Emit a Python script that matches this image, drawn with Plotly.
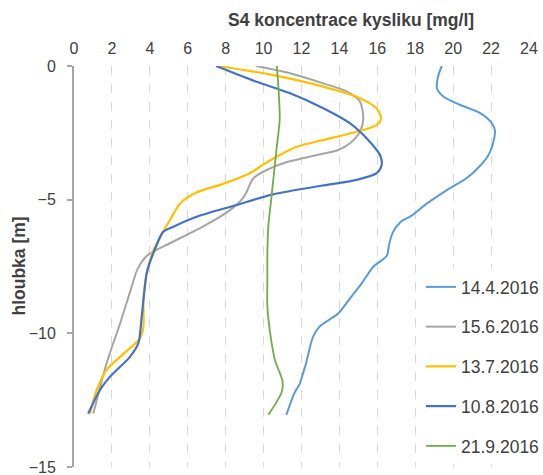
import plotly.graph_objects as go

# Dissolved oxygen profiles at station S4 (depth in m, concentration in mg/l)
labels = ["14.4.2016", "15.6.2016", "13.7.2016", "10.8.2016", "21.9.2016"]
colors = ["#5B9BD5", "#A5A5A5", "#FFC000", "#4472C4", "#70AD47"]
widths = [2, 2, 2.2, 2.2, 1.8]

depth_0414 = [0, -0.4, -0.85, -1.15, -1.45, -1.75, -2.1, -2.4, -2.9, -3.35, -3.75, -4.2,
              -4.65, -5.15, -5.6, -5.85, -6.25, -6.75, -7.1, -7.5, -8.1, -8.7, -9.25,
              -9.75, -10.15, -10.5, -11.1, -11.45, -11.9, -12.2, -13.05]
oxy_0414 = [19.4, 19.2, 19.15, 19.5, 20.35, 21.4, 22.0, 22.2, 22.1, 21.85, 21.4, 20.7,
            19.65, 18.6, 17.8, 17.2, 16.8, 16.6, 16.5, 15.8, 15.2, 14.55, 13.95,
            12.95, 12.6, 12.45, 12.25, 12.1, 11.9, 11.65, 11.2]

depth_0615 = [0, -0.27, -0.65, -0.96, -1.33, -1.96, -2.46, -2.89, -3.15, -3.3, -3.6,
              -3.89, -4.2, -4.7, -4.95, -5.39, -6.0, -6.63, -7.1, -7.6, -8.26, -9.63,
              -11.12, -13.0]
oxy_0615 = [9.6, 11.4, 13.15, 14.4, 15.08, 15.26, 15.08, 14.56, 13.9, 13.0, 11.2,
            10.16, 9.46, 9.11, 8.9, 8.23, 6.82, 5.06, 3.85, 3.35, 3.04, 2.43,
            1.72, 1.02]

depth_0713 = [0, -0.34, -0.77, -1.15, -1.58, -1.96, -2.21, -2.46, -2.77, -3.02, -3.33,
              -3.7, -4.0, -4.4, -4.75, -5.14, -5.76, -6.2, -6.88, -7.51, -8.13, -8.75,
              -9.75, -10.19, -10.44, -10.88, -11.37, -12.12, -13.0]
oxy_0713 = [7.6, 10.5, 13.15, 14.9, 15.95, 16.2, 15.95, 14.9, 13.15, 11.75, 10.85,
            9.95, 9.3, 7.9, 6.4, 5.6, 5.06, 4.7, 4.2, 3.92, 3.75, 3.66,
            3.66, 3.48, 3.13, 2.43, 1.72, 1.2, 0.84]

depth_0810 = [0, -0.59, -1.02, -1.58, -2.14, -2.83, -3.33, -3.7, -4.01, -4.26, -4.48,
              -4.8, -5.2, -5.64, -6.01, -6.2, -6.8, -7.7, -8.5, -9.38, -10.38, -10.88,
              -11.62, -12.12, -13.0]
oxy_0810 = [7.5, 9.63, 11.4, 13.15, 14.55, 15.6, 16.14, 16.23, 15.96, 14.9, 13.05,
            10.5, 8.58, 6.47, 5.24, 4.71, 4.3, 3.85, 3.7, 3.57, 3.39, 2.95,
            1.9, 1.37, 0.75]

depth_0921 = [0, -1, -2, -3, -4, -5, -6, -7, -8, -9, -10, -11, -11.8, -12.2, -13.05]
oxy_0921 = [10.7, 10.8, 10.85, 10.7, 10.55, 10.4, 10.25, 10.2, 10.2, 10.2, 10.35,
            10.6, 11.0, 10.95, 10.25]

series_x = [oxy_0414, oxy_0615, oxy_0713, oxy_0810, oxy_0921]
series_y = [depth_0414, depth_0615, depth_0713, depth_0810, depth_0921]

x_ticks = list(range(0, 25, 2))
y_ticks = [0, -5, -10, -15]

FONT = "Liberation Sans, Arial, sans-serif"
TEXT = "#404040"

fig = go.Figure()
for i, name in enumerate(labels):
    fig.add_trace(go.Scatter(
        x=series_x[i], y=series_y[i], mode="lines", name=name,
        legendgroup=name,
        line=dict(color=colors[i], width=widths[i], shape="spline", smoothing=0.8),
    ))

W, H = 543, 475
ml, mr, mt, mb = 74, 14, 66, 8
pw, ph = W - ml - mr, H - mt - mb

fig.update_layout(
    width=W, height=H,
    margin=dict(l=ml, r=mr, t=mt, b=mb, autoexpand=False),
    paper_bgcolor="white", plot_bgcolor="white",
    font=dict(family=FONT, size=16, color=TEXT),
    showlegend=True,
    legend=dict(
        x=(421 - ml) / pw, y=(H - mb - 269) / ph,
        xanchor="left", yanchor="top",
        bgcolor="white", borderwidth=0,
        font=dict(family=FONT, size=17.5, color=TEXT),
        tracegroupgap=14, itemwidth=30,
    ),
    xaxis=dict(
        side="top", range=[0, 24], tickvals=x_ticks,
        showgrid=True, gridcolor="#D9D9D9", griddash="dash", gridwidth=1,
        zeroline=False, showline=False, ticks="",
        ticklabelstandoff=8,
        tickfont=dict(family=FONT, size=16, color=TEXT),
    ),
    yaxis=dict(
        range=[-15, 0], tickvals=y_ticks,
        showgrid=False, zeroline=False,
        showline=True, linecolor="#A6A6A6", linewidth=2,
        ticks="outside", ticklen=5, tickcolor="#A6A6A6", tickwidth=1.5,
        ticklabelstandoff=8, ticklabeloverflow="allow",
        tickfont=dict(family=FONT, size=16, color=TEXT),
    ),
    annotations=[
        dict(text="<b>S4 koncentrace kysliku [mg/l]</b>", xref="paper", yref="paper",
             x=(351 - ml) / pw, y=(H - mb - 20) / ph,
             xanchor="center", yanchor="middle", showarrow=False,
             font=dict(family=FONT, size=17.5, color=TEXT)),
        dict(text="<b>hloubka [m]</b>", xref="paper", yref="paper",
             x=(18 - ml) / pw, y=0.5, textangle=-90,
             xanchor="center", yanchor="middle", showarrow=False,
             font=dict(family=FONT, size=17.5, color=TEXT)),
    ],
)

fig.write_html("out.html")
